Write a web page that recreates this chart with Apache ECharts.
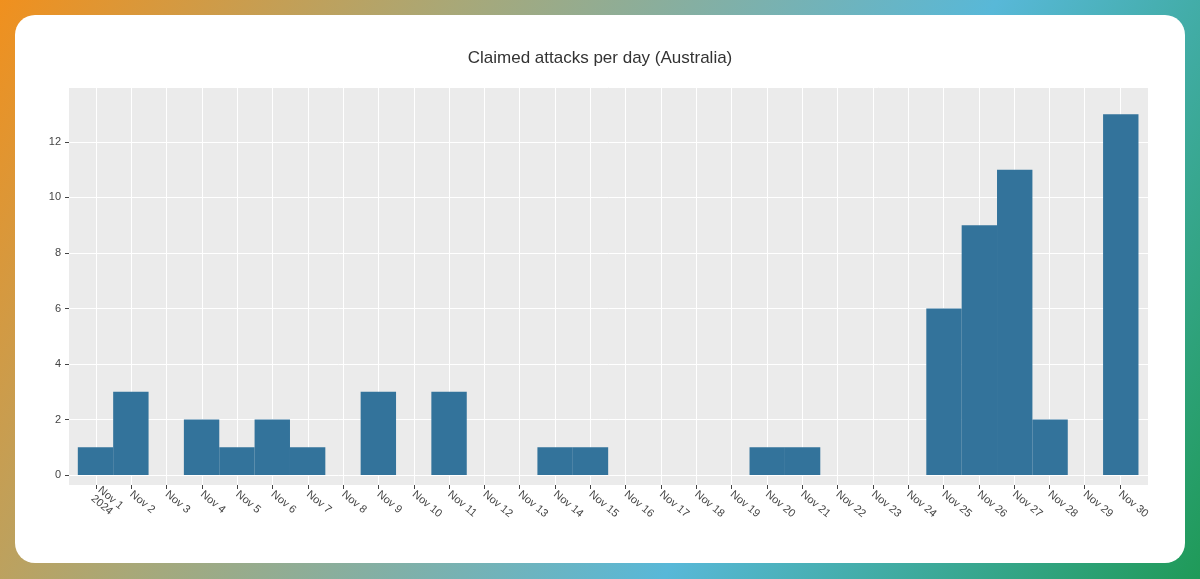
<!DOCTYPE html>
<html><head><meta charset="utf-8">
<script src="https://cdn.jsdelivr.net/npm/echarts@6/dist/echarts.min.js"></script>
<style>
html,body{margin:0;padding:0;width:1200px;height:579px;overflow:hidden;}
body{background:linear-gradient(120deg,#f0901e 0%,#a8a878 30%,#58b8d8 65%,#1f9a58 100%);}
#card{position:absolute;left:15px;top:15px;width:1170px;height:548px;background:#fff;border-radius:20px;}
#c{position:absolute;left:0;top:0;width:1200px;height:579px;}
</style></head>
<body><div id="card"></div><div id="c"></div>
<script>
const days = ["Nov 1\n2024","Nov 2","Nov 3","Nov 4","Nov 5","Nov 6","Nov 7","Nov 8","Nov 9","Nov 10","Nov 11","Nov 12","Nov 13","Nov 14","Nov 15","Nov 16","Nov 17","Nov 18","Nov 19","Nov 20","Nov 21","Nov 22","Nov 23","Nov 24","Nov 25","Nov 26","Nov 27","Nov 28","Nov 29","Nov 30"];
const attacks = [1,3,0,2,1,2,1,0,3,0,3,0,0,1,1,0,0,0,0,1,1,0,0,0,6,9,11,2,0,13];
const yTicks = [0,2,4,6,8,10,12];

const chart = echarts.init(document.getElementById('c'), null, {renderer:'canvas'});
chart.setOption({
  backgroundColor:'transparent',
  animation:false,
  title:{text:'Claimed attacks per day (Australia)',left:'center',top:45,
    textStyle:{fontFamily:'Liberation Sans, Arial',fontSize:17,fontWeight:'normal',color:'#333'}},
  graphic:[{type:'rect',z:-10,shape:{x:69,y:87,width:1079,height:398},style:{fill:'#ebebeb'}}],
  grid:[
    {left:69,right:52,top:87,bottom:104},
    {left:96,right:80,top:87,bottom:94}
  ],
  xAxis:[
    {gridIndex:0,type:'value',min:0.25,max:30.77,show:false},
    {gridIndex:1,type:'category',data:days,boundaryGap:false,
     axisLine:{show:false},axisTick:{show:true,length:4,lineStyle:{color:'#444'}},
     splitLine:{show:true,lineStyle:{color:'#fff',width:1}},
     axisLabel:{interval:0,rotate:-40,color:'#444',fontSize:11,fontFamily:'Liberation Sans, Arial',margin:8}}
  ],
  yAxis:[
    {gridIndex:0,type:'value',min:0,max:13.98,interval:2,
     axisLine:{show:false},axisTick:{show:true,length:4,lineStyle:{color:'#444'}},
     splitLine:{show:true,lineStyle:{color:'#fff',width:1}},
     axisLabel:{color:'#444',fontSize:11,fontFamily:'Liberation Sans, Arial',margin:8,showMaxLabel:false,
       formatter:v=>yTicks.includes(v)?String(v):''}},
    {gridIndex:1,type:'value',show:false,splitLine:{show:false}}
  ],
  series:[{type:'bar',xAxisIndex:0,yAxisIndex:0,barWidth:35.4,clip:false,
    itemStyle:{color:'#33739b'},
    data:attacks.map((v,i)=>[i+1,v])}]
});
</script></body></html>
